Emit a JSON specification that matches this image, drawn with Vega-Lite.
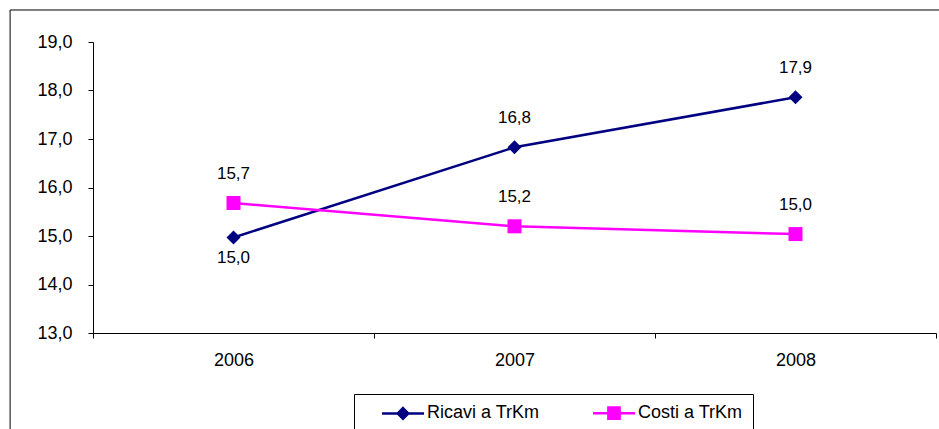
{
  "$schema": "https://vega.github.io/schema/vega-lite/v6.json",
  "width": 843,
  "height": 291,
  "autosize": "none",
  "padding": {"left": 93, "top": 42, "right": 3, "bottom": 96},
  "background": "white",
  "config": {
    "locale": {"number": {"decimal": ",", "thousands": ".", "grouping": [3], "currency": ["€", ""]}},
    "view": {"stroke": null},
    "font": "Liberation Sans",
    "axis": {"labelFont": "Liberation Sans", "labelFontSize": 18, "labelColor": "#000", "domainColor": "#000", "tickColor": "#000", "grid": false, "title": null}
  },
  "data": {
    "values": [
      {"series": "Ricavi a TrKm", "year": 2006, "value": 14.97},
      {"series": "Ricavi a TrKm", "year": 2007, "value": 16.83},
      {"series": "Ricavi a TrKm", "year": 2008, "value": 17.86},
      {"series": "Costi a TrKm", "year": 2006, "value": 15.68},
      {"series": "Costi a TrKm", "year": 2007, "value": 15.2},
      {"series": "Costi a TrKm", "year": 2008, "value": 15.04}
    ]
  },
  "layer": [
    {
      "data": {"values": [{"x1": 2005.205, "x2": 2010, "y1": 19.66, "y2": 9}]},
      "mark": {"type": "rect", "fill": null, "stroke": "#000", "strokeWidth": 1},
      "encoding": {
        "x": {"field": "x1", "type": "quantitative"},
        "x2": {"field": "x2"},
        "y": {"field": "y1", "type": "quantitative"},
        "y2": {"field": "y2"}
      }
    },
    {
      "mark": {"type": "line", "strokeWidth": 2.5},
      "encoding": {
        "x": {
          "field": "year", "type": "quantitative",
          "scale": {"domain": [2005.5, 2008.5], "nice": false, "zero": false},
          "axis": {
            "values": [2005.5, 2006, 2006.5, 2007, 2007.5, 2008, 2008.5],
            "labelExpr": "datum.value % 1 === 0 ? '' + datum.value : ''",
            "tickOpacity": {"condition": {"test": "datum.value % 1 === 0", "value": 0}, "value": 1},
            "tickSize": 5,
            "labelPadding": 13,
            "labelFlush": false,
            "labelOverlap": false
          }
        },
        "y": {
          "field": "value", "type": "quantitative",
          "scale": {"domain": [13, 19], "nice": false, "zero": false},
          "axis": {"values": [13, 14, 15, 16, 17, 18, 19], "format": ".1f", "tickSize": 5, "labelPadding": 16}
        },
        "color": {
          "field": "series", "type": "nominal",
          "scale": {"domain": ["Ricavi a TrKm", "Costi a TrKm"], "range": ["#000080", "#ff00ff"]},
          "legend": {
            "title": null,
            "orient": "none",
            "direction": "horizontal",
            "columns": 2,
            "gridAlign": "all",
            "legendX": 261,
            "legendY": 352,
            "strokeColor": "#000",
            "fillColor": "#fff",
            "padding": 10,
            "symbolSize": 196,
            "symbolType": "M-3,0L3,0M0,-0.75L0.75,0L0,0.75L-0.75,0Z",
            "symbolStrokeWidth": 2.5,
            "symbolOffset": 30,
            "labelOffset": 15,
            "columnPadding": 35,
            "labelFont": "Liberation Sans",
            "labelFontSize": 18,
            "labelColor": "#000",
            "encode": {
              "symbols": {
                "update": {
                  "shape": {"signal": "datum.value === 'Ricavi a TrKm' ? 'M-3,0L3,0M0,-0.75L0.75,0L0,0.75L-0.75,0Z' : 'M-3,0L3,0M-0.8,-0.8L0.8,-0.8L0.8,0.8L-0.8,0.8Z'"},
                  "fill": {"signal": "datum.value === 'Ricavi a TrKm' ? '#000080' : '#ff00ff'"},
                  "stroke": {"signal": "datum.value === 'Ricavi a TrKm' ? '#000080' : '#ff00ff'"},
                  "strokeWidth": {"value": 2.5},
                  "strokeOpacity": {"value": 1},
                  "opacity": {"value": 1}
                }
              }
            }
          }
        }
      }
    },
    {
      "transform": [{"filter": "datum.series === 'Ricavi a TrKm'"}],
      "mark": {"type": "point", "filled": true, "opacity": 1, "size": 196, "shape": "diamond", "color": "#000080"},
      "encoding": {
        "x": {"field": "year", "type": "quantitative"},
        "y": {"field": "value", "type": "quantitative"}
      }
    },
    {
      "transform": [{"filter": "datum.series === 'Costi a TrKm'"}],
      "mark": {"type": "point", "filled": true, "opacity": 1, "size": 196, "shape": "square", "color": "#ff00ff"},
      "encoding": {
        "x": {"field": "year", "type": "quantitative"},
        "y": {"field": "value", "type": "quantitative"}
      }
    },
    {
      "transform": [{"filter": "!(datum.series === 'Ricavi a TrKm' && datum.year === 2006)"}],
      "mark": {"type": "text", "font": "Liberation Sans", "fontSize": 17, "baseline": "middle", "align": "center", "dy": -29, "color": "#000"},
      "encoding": {
        "x": {"field": "year", "type": "quantitative"},
        "y": {"field": "value", "type": "quantitative"},
        "text": {"field": "value", "type": "quantitative", "format": ".1f"}
      }
    },
    {
      "transform": [{"filter": "datum.series === 'Ricavi a TrKm' && datum.year === 2006"}],
      "mark": {"type": "text", "font": "Liberation Sans", "fontSize": 17, "baseline": "middle", "align": "center", "dy": 21, "color": "#000"},
      "encoding": {
        "x": {"field": "year", "type": "quantitative"},
        "y": {"field": "value", "type": "quantitative"},
        "text": {"field": "value", "type": "quantitative", "format": ".1f"}
      }
    }
  ]
}
